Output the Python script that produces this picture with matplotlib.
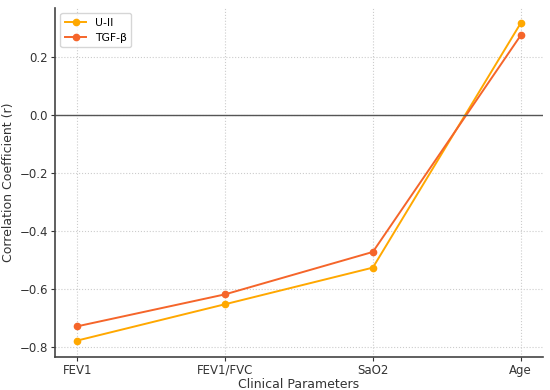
import matplotlib
matplotlib.use("Agg")
import matplotlib.pyplot as plt

params = ['FEV1', 'FEV1/FVC', 'SaO2', 'Age']
u2 = [-0.777, -0.652, -0.526, 0.315]
tgf = [-0.728, -0.618, -0.472, 0.273]

fig, ax = plt.subplots(figsize=(5.5, 3.9), dpi=100)

ax.plot(params, u2, marker='o', markersize=4.5, color='#FFA800', label='U-II', lw=1.4)
ax.plot(params, tgf, marker='o', markersize=4.5, color='#F5652A', label='TGF-β', lw=1.4)
ax.axhline(0, color='#555555', lw=1)

ax.set_xlabel('Clinical Parameters', color='#333333', fontsize=9, labelpad=1)
ax.set_ylabel('Correlation Coefficient (r)', color='#333333', fontsize=9, labelpad=3)
ax.set_ylim(-0.833, 0.368)
ax.grid(True, linestyle=':', color='#cccccc')
ax.legend(loc='upper left', fontsize=7.8)

for s in ['top', 'right']:
    ax.spines[s].set_visible(False)
for s in ['left', 'bottom']:
    ax.spines[s].set_color('#444444')
    ax.spines[s].set_linewidth(1.2)
ax.tick_params(colors='#333333', labelsize=8.5, length=3, pad=2)

fig.subplots_adjust(left=0.1, right=0.987, top=0.98, bottom=0.085)
fig.savefig('out.png')
